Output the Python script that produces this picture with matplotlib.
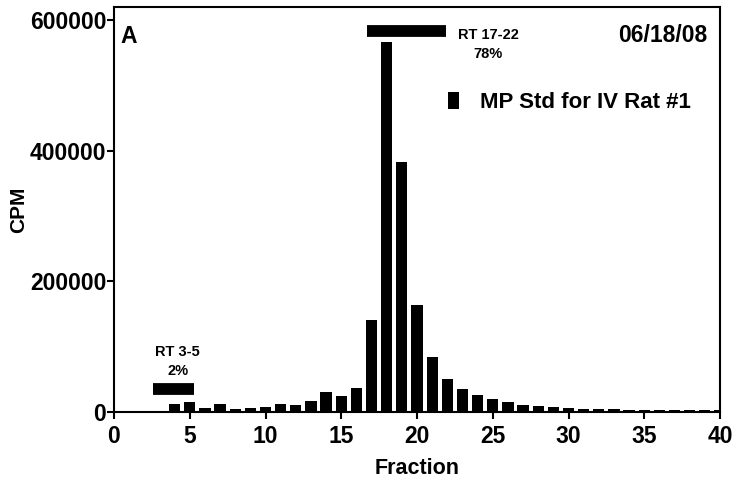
import matplotlib
matplotlib.use('Agg')
import matplotlib.pyplot as plt
from matplotlib.patches import Patch

plt.rcParams['font.family'] = ['Liberation Sans', 'DejaVu Sans']
plt.rcParams['font.weight'] = 'bold'

fractions = list(range(4, 41))
cpm = [11700, 14800, 6600, 12800, 4600, 5500, 7100, 11700, 11200, 17400,
       30800, 24600, 36300, 140800, 566000, 383000, 163500, 83500, 51000, 35000,
       26000, 19500, 15000, 11000, 9000, 7000, 5700, 5000, 4500, 4000,
       3500, 3000, 3000, 2500, 2500, 2500, 2500]

# retention windows: (start, end, level, name, percent, label x, label y)
windows = [
    (2.6, 5.3, 34600, 'RT 3-5', '2%', 4.2, 77000),
    (16.7, 21.9, 583000, 'RT 17-22', '78%', 24.7, 562000),
]
series_name = 'MP Std for IV Rat #1'
panel = 'A'
date_text = '06/18/08'

fig = plt.figure(figsize=(7.36, 4.87), dpi=100)
ax = fig.add_axes([114/736, 75/487, 606/736, 405/487])

ax.bar(fractions, cpm, width=0.74, color='black')

for x0, x1, lvl, name, pct, tx, ty in windows:
    ax.plot([x0, x1], [lvl, lvl], color='black', linewidth=8.5, solid_capstyle='butt')
    ax.text(tx, ty, name + '\n' + pct, ha='center', va='center', fontsize=10.5,
            fontweight='bold', linespacing=1.45)

ax.set_xlim(0, 40)
ax.set_ylim(0, 620000)
ax.set_xticks(range(0, 41, 5))
ax.set_yticks([0, 200000, 400000, 600000])
ax.set_yticklabels(['0', '200000', '400000', '600000'])
ax.tick_params(labelsize=16.5, width=1.5, length=5)
ax.tick_params(axis='x', pad=4.5)
ax.tick_params(axis='y', pad=0.5)
for s in ax.spines.values():
    s.set_linewidth(1.5)

ax.set_xlabel('Fraction', fontsize=15.5, fontweight='bold')
ax.set_ylabel('CPM', fontsize=15, fontweight='bold')
ax.xaxis.set_label_coords(0.5, -0.114)
ax.yaxis.set_label_coords(-0.142, 0.5)

ax.text(0.01, 0.955, panel, transform=ax.transAxes, fontsize=16.5, fontweight='bold',
        va='top', ha='left')
ax.text(0.979, 0.958, date_text, transform=ax.transAxes, fontsize=16.5, fontweight='bold',
        va='top', ha='right')

ax.legend(handles=[Patch(facecolor='black')], labels=[series_name], frameon=False,
          loc='center left', bbox_to_anchor=(0.551, 0.765), borderpad=0,
          borderaxespad=0, handlelength=0.5, handleheight=0.8, handletextpad=0.95,
          prop={'size': 16, 'weight': 'bold'})

fig.savefig('out.png', dpi=100)
